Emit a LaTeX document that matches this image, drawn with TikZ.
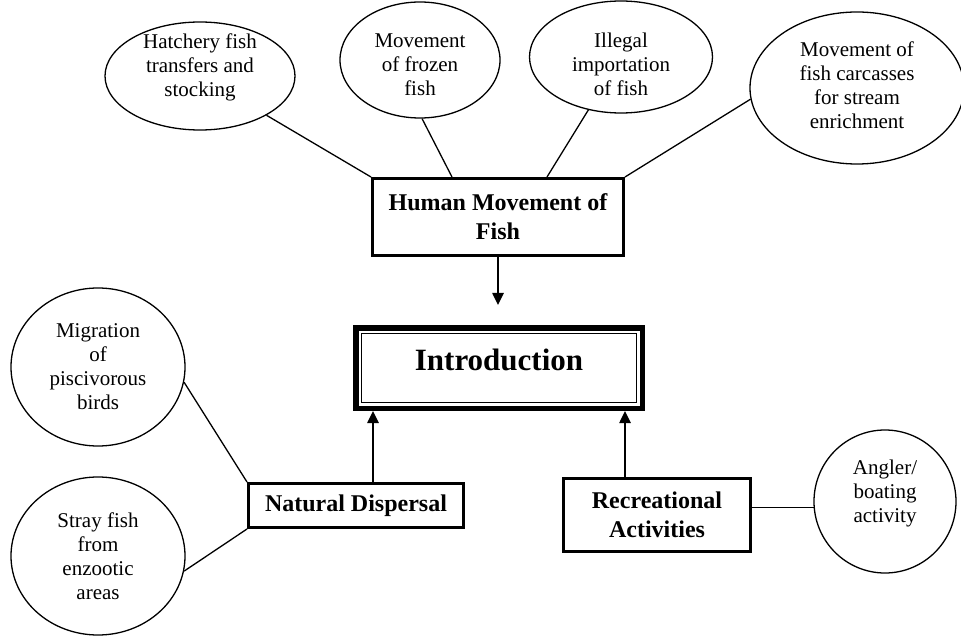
\documentclass[tikz,border=0pt]{standalone}
\usepackage{fontspec}
\setmainfont{Liberation Serif}
\usetikzlibrary{arrows.meta,shapes.geometric}
\begin{document}
\begin{tikzpicture}[x=1pt,y=-1pt,
 ell/.style={draw, ellipse, line width=1.3pt, inner sep=0pt},
 txt/.style={font=\fontsize{21}{24}\selectfont, align=center, inner sep=0pt},
 bx/.style={draw, line width=3pt, inner sep=0pt, align=center, font=\fontsize{24}{29}\selectfont\bfseries},
 link/.style={line width=1.3pt},
 arr/.style={line width=2.5pt, -{Triangle[width=11pt,length=12pt]}}]
\useasboundingbox (0,0) rectangle (961,636);
% boxes
\node[bx, minimum width=251pt, minimum height=77pt] (human) at (498,217) {Human Movement of\\Fish};
\node[draw, line width=5.5pt, minimum width=286.5pt, minimum height=80.5pt, inner sep=0pt,
      font=\fontsize{31}{36}\selectfont\bfseries, text height=21pt, text depth=17pt] (intro) at (499,368) {Introduction};
\draw[line width=1.4pt] ([shift={(8.5pt,-8.5pt)}]intro.north west) rectangle ([shift={(-8.5pt,8.5pt)}]intro.south east);
\node[bx, minimum width=215pt, minimum height=44pt] (nat) at (356,505.5) {Natural Dispersal};
\node[bx, minimum width=187pt, minimum height=73pt] (rec) at (657,515) {Recreational\\Activities};
% ellipses
\node[ell, minimum width=190pt, minimum height=108pt, label={[txt,yshift=9pt]center:{Hatchery fish\\transfers and\\stocking}}] (hatch) at (200,76) {};
\node[ell, minimum width=160pt, minimum height=116pt, label={[txt,yshift=-5pt]center:{Movement\\of frozen\\fish}}] (frozen) at (420,60) {};
\node[ell, minimum width=183pt, minimum height=112pt, label={[txt,yshift=-7pt]center:{Illegal\\importation\\of fish}}] (illegal) at (621,57) {};
\node[ell, minimum width=214pt, minimum height=152pt, label={[txt,yshift=3pt]center:{Movement of\\fish carcasses\\for stream\\enrichment}}] (carc) at (857,88) {};
\node[ell, minimum width=174pt, minimum height=158pt, label={[txt]center:{Migration\\of\\piscivorous\\birds}}] (mig) at (98,367) {};
\node[ell, minimum width=174pt, minimum height=158pt, label={[txt]center:{Stray fish\\from\\enzootic\\areas}}] (stray) at (98,556) {};
\node[ell, minimum width=142pt, minimum height=143pt, label={[txt,yshift=8pt]center:{Angler/\\boating\\activity}}] (ang) at (885,501.5) {};
% connectors
\draw[link] (hatch) -- (human.north west);
\draw[link] (frozen.272) -- ([xshift=81pt]human.north west);
\draw[link] (illegal) -- ([xshift=176pt]human.north west);
\draw[link] (carc.186) -- (human.north east);
\draw[link] (mig.-10) -- (nat.north west);
\draw[link] (stray.-10) -- (nat.south west);
\draw[link] (ang.185 -| rec.east) -- (ang.185);
% arrows
\coordinate (hend) at (498,305);
\coordinate (na) at ([xshift=17pt]nat.north);
\coordinate (ra) at ([xshift=-32pt]rec.north);
\draw[arr] (human.south) -- (hend);
\draw[arr] (na) -- (na |- intro.south);
\draw[arr] (ra) -- (ra |- intro.south);
\end{tikzpicture}
\end{document}
